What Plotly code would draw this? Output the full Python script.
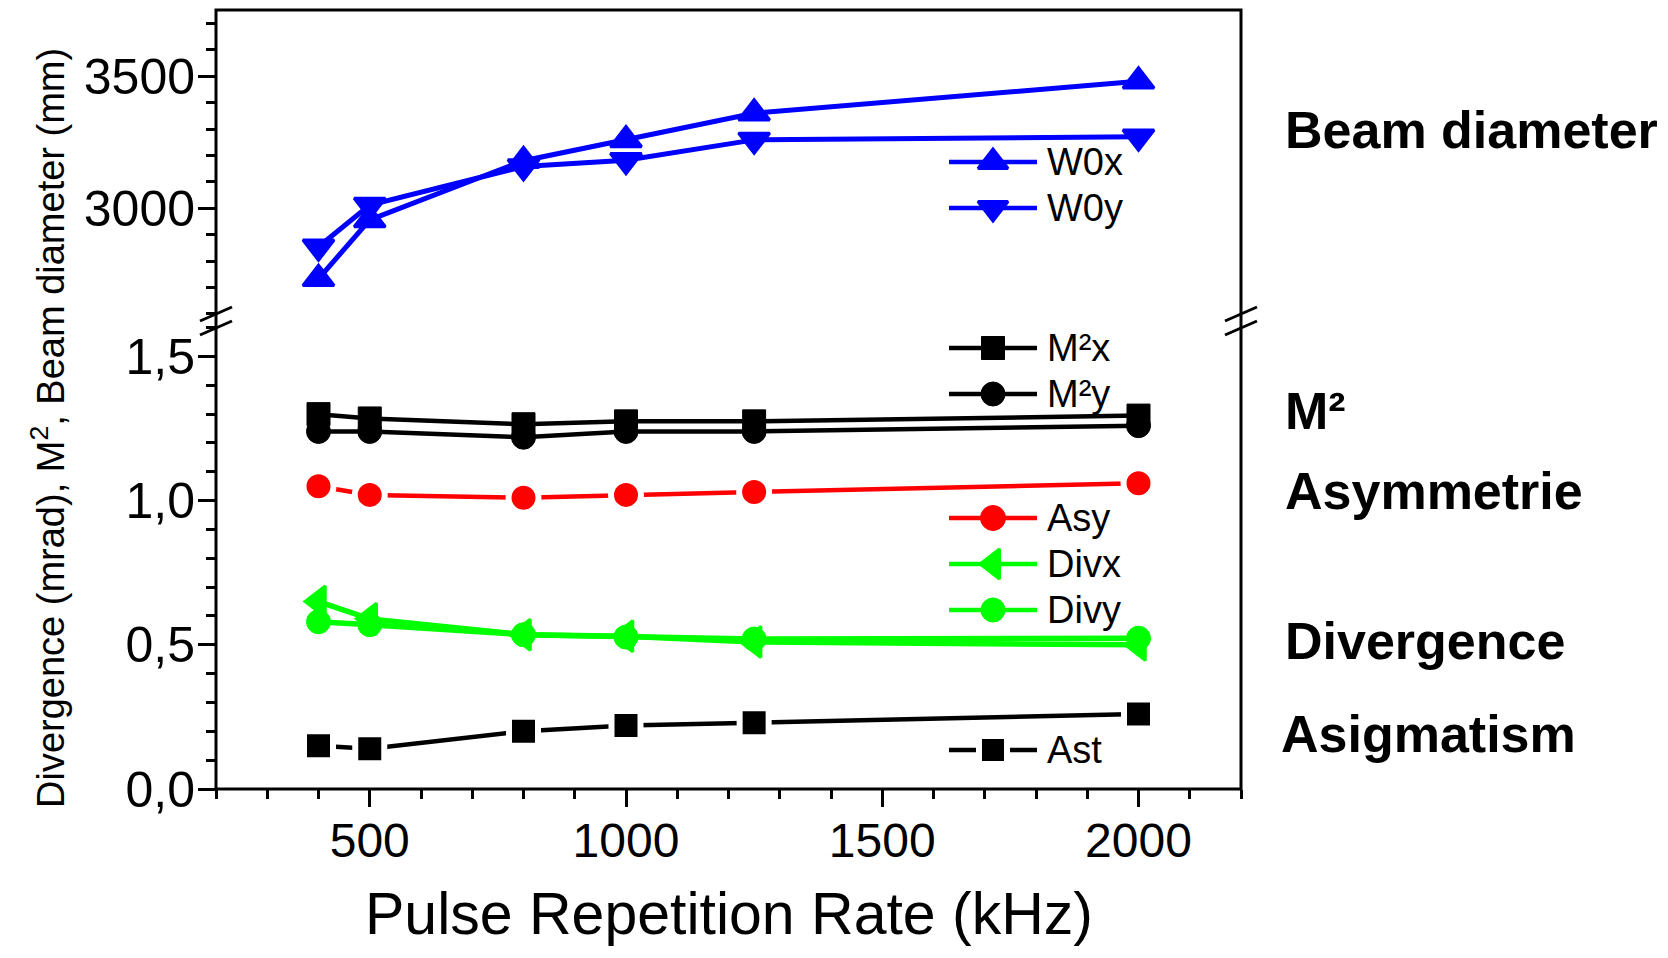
import plotly.graph_objects as go

# ---------------- data ----------------
rate_khz = [400, 500, 800, 1000, 1250, 2000]
w0x = [2733, 2956, 3180, 3259, 3360, 3481]
w0y = [2854, 3012, 3158, 3182, 3259, 3271]
m2x = [1.30, 1.285, 1.265, 1.275, 1.275, 1.295]
m2y = [1.24, 1.24, 1.22, 1.24, 1.24, 1.26]
asy = [1.05, 1.02, 1.01, 1.02, 1.03, 1.06]
divx = [0.65, 0.59, 0.535, 0.53, 0.51, 0.50]
divy = [0.58, 0.57, 0.535, 0.527, 0.52, 0.523]
ast = [0.15, 0.14, 0.20, 0.22, 0.23, 0.26]

x_ticks = [500, 1000, 1500, 2000]
upper_ticks = [3000, 3500]
lower_ticks = [0, 0.5, 1.0, 1.5]
lower_tick_text = ["0,0", "0,5", "1,0", "1,5"]

group_labels = ["Beam diameter", "M²", "Asymmetrie", "Divergence", "Asigmatism"]

# ---------------- layout geometry (page pixels) ----------------
PAGE_W, PAGE_H = 1668, 958
OFF = 8                      # default body margin of the html page
W, H = PAGE_W - 2 * OFF, PAGE_H - 2 * OFF
L, R, T, B = 216, 1241, 10, 789     # plot area in page pixels
BRK = 321                    # page row of the axis break


def fx(px):
    return (px - L) / (R - L)


def fy(py):
    return (B - py) / (B - T)


brk = fy(BRK)
FONT = "Arial, Liberation Sans, sans-serif"
BLUE, RED, GREEN, BLACK = "#0000FF", "#FF0000", "#00FF00", "#000000"

fig = go.Figure()


def add(y, name, color, symbol, size, yaxis, ring=False, lw=4.5):
    if ring:
        mline = dict(width=6, color="white")
        size = size + 6
    elif symbol.startswith("triangle"):
        mline = dict(width=3, color=color)
    else:
        mline = dict(width=1, color=color)
    fig.add_trace(go.Scatter(
        x=rate_khz, y=y, name=name, mode="lines+markers", xaxis="x", yaxis=yaxis,
        line=dict(color=color, width=lw),
        marker=dict(symbol=symbol, size=size, color=color, line=mline),
        showlegend=False, cliponaxis=False,
    ))


add(w0y, "W0y", BLUE, "triangle-down", 27, "y2", lw=5)
add(w0x, "W0x", BLUE, "triangle-up", 27, "y2", lw=5)
add(ast, "Ast", BLACK, "square", 23, "y", ring=True)
add(divy, "Divy", GREEN, "circle", 24, "y", lw=5.5)
add(divx, "Divx", GREEN, "triangle-left", 27, "y", lw=5.5)
add(asy, "Asy", RED, "circle", 24, "y", ring=True)
add(m2y, "M²y", BLACK, "circle", 24, "y")
add(m2x, "M²x", BLACK, "square", 23, "y")

# ---------------- manual legend samples ----------------
legend_items = [
    ("W0x", BLUE, "triangle-up", 26, 162),
    ("W0y", BLUE, "triangle-down", 26, 208),
    ("M²x", BLACK, "square", 23, 348),
    ("M²y", BLACK, "circle", 24, 394),
    ("Asy", RED, "circle", 25, 518),
    ("Divx", GREEN, "triangle-left", 26, 564),
    ("Divy", GREEN, "circle", 24, 610),
    ("Ast", BLACK, "square", 22, 750),
]
annotations = []
for name, color, sym, size, ypx in legend_items:
    yy = fy(ypx)
    fig.add_trace(go.Scatter(
        x=[fx(949), fx(1037)], y=[yy, yy], mode="lines", xaxis="x3", yaxis="y3",
        line=dict(color=color, width=4.5), showlegend=False, hoverinfo="skip"))
    if name == "Ast":
        mline, msize = dict(width=6, color="white"), size + 6
    elif sym.startswith("triangle"):
        mline, msize = dict(width=3, color=color), size
    else:
        mline, msize = dict(width=1, color=color), size
    fig.add_trace(go.Scatter(
        x=[fx(993)], y=[yy], mode="markers", xaxis="x3", yaxis="y3",
        marker=dict(symbol=sym, size=msize, color=color, line=mline),
        showlegend=False, hoverinfo="skip"))
    annotations.append(dict(
        x=fx(1045), y=yy, xref="paper", yref="paper", text=name, showarrow=False,
        xanchor="left", yanchor="middle", font=dict(size=38, color="black", family=FONT)))

# ---------------- group labels on the right ----------------
label_rows = [130, 411, 491, 641, 734]
label_x = [1283, 1283, 1283, 1283, 1279]
for txt, ypx, xpx in zip(group_labels, label_rows, label_x):
    annotations.append(dict(
        x=fx(xpx), y=fy(ypx), xref="paper", yref="paper", text="<b>%s</b>" % txt,
        showarrow=False, xanchor="left", yanchor="middle",
        font=dict(size=52, color="black", family=FONT)))

# axis titles
annotations.append(dict(
    x=fx(729), y=fy(914), xref="paper", yref="paper",
    text="Pulse Repetition Rate (kHz)", showarrow=False, xanchor="center", yanchor="middle",
    font=dict(size=59, color="black", family=FONT)))
annotations.append(dict(
    x=fx(48), y=fy(428), xref="paper", yref="paper",
    text="Divergence (mrad), M<sup>2</sup>, Beam diameter (mm)", showarrow=False,
    xanchor="center", yanchor="middle", textangle=-90,
    font=dict(size=38, color="black", family=FONT)))

# ---------------- frame and break marks ----------------
shapes = [dict(type="rect", xref="paper", yref="paper", x0=0, y0=0, x1=1, y1=1,
               line=dict(color="black", width=3), layer="above")]
for xc in (L, R):
    for yc in (BRK - 7, BRK + 7):
        shapes.append(dict(type="line", xref="paper", yref="paper",
                           x0=fx(xc - 16), y0=fy(yc + 7), x1=fx(xc + 16), y1=fy(yc - 7),
                           line=dict(color="black", width=3), layer="above"))

common_axis = dict(showgrid=False, zeroline=False, showline=False, ticks="outside",
                   ticklen=17, tickwidth=3, tickcolor="black")
xfont = dict(size=48, color="black", family=FONT)
yfont = dict(size=50, color="black", family=FONT)

fig.update_layout(
    width=W, height=H,
    margin=dict(l=L - OFF, r=W - (R - OFF), t=T - OFF, b=H - (B - OFF), pad=0),
    paper_bgcolor="white", plot_bgcolor="rgba(0,0,0,0)",
    showlegend=False,
    font=dict(family=FONT, color="black"),
    xaxis=dict(range=[200, 2200], anchor="y", tickvals=x_ticks, ticklabelstandoff=-8,
               tickfont=xfont,
               minor=dict(dtick=100, tick0=0, ticks="outside", ticklen=9, tickwidth=3, tickcolor="black"),
               **common_axis),
    xaxis2=dict(range=[200, 2200], anchor="y2", overlaying="x", side="top", showticklabels=False,
                showgrid=False, zeroline=False, showline=False, ticks="inside", ticklen=7,
                tickwidth=2, tickcolor="black",
                tickvals=[300, 400, 500, 600, 700, 800, 900, 1000, 1100, 1200,
                          1300, 1400, 1500, 1600, 1700, 1800, 1900, 2000, 2100]),
    yaxis=dict(domain=[0, brk], range=[0, 1.623], anchor="x", tickvals=lower_ticks,
               ticktext=lower_tick_text, tickfont=yfont, ticklabelstandoff=-7,
               minor=dict(dtick=0.1, tick0=0, ticks="outside", ticklen=9, tickwidth=3, tickcolor="black"),
               **common_axis),
    yaxis2=dict(domain=[brk, 1], range=[2573, 3751], anchor="x", tickvals=upper_ticks,
                tickfont=yfont, ticklabelstandoff=-7,
                minor=dict(dtick=100, tick0=0, ticks="outside", ticklen=9, tickwidth=3, tickcolor="black"),
                **common_axis),
    xaxis3=dict(domain=[0, 1], range=[0, 1], anchor="y3", visible=False),
    yaxis3=dict(domain=[0, 1], range=[0, 1], anchor="x3", visible=False),
    annotations=annotations,
    shapes=shapes,
)

fig.write_html("out.html")
